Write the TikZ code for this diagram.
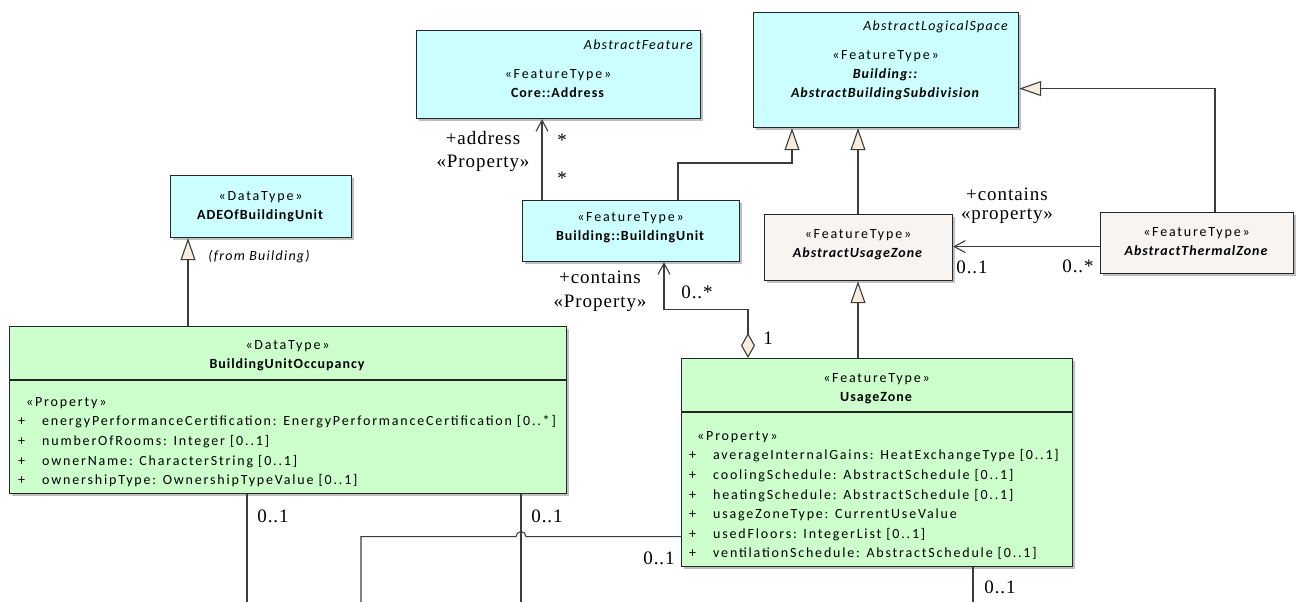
\documentclass[tikz,border=0pt]{standalone}
\usepackage{fontspec}
\setmainfont{Liberation Serif}[LetterSpace=5]
\newfontfamily\eafont{Carlito}[UprightFeatures={LetterSpace=13}, BoldFeatures={LetterSpace=7},
  ItalicFeatures={LetterSpace=9}, BoldItalicFeatures={LetterSpace=7}]
\usepackage{tikz}
\usetikzlibrary{arrows.meta,shadows}
\usepackage{xcolor}
\definecolor{featcyan}{HTML}{CCFFFF}
\definecolor{datagreen}{HTML}{CCFFCC}
\definecolor{abstractgray}{HTML}{F8F4F2}
\definecolor{tipbeige}{HTML}{F8ECDF}
\definecolor{linegray}{HTML}{3C3C3C}

\begin{document}
\begin{tikzpicture}[x=1pt, y=-1pt,
  umlbox/.style={draw=black!85, line width=1.2pt, inner sep=0pt, anchor=north west,
    drop shadow={shadow xshift=2pt, shadow yshift=-2pt, fill=black, opacity=0.25}},
  featbox/.style={umlbox, fill=featcyan},
  databox/.style={umlbox, fill=datagreen},
  absbox/.style={umlbox, fill=abstractgray},
  boxtext/.style={font=\eafont\fontsize{14}{19}\selectfont, align=center, inner sep=0pt},
  attrtext/.style={font=\eafont\fontsize{14}{19.6}\selectfont, inner sep=0pt, anchor=north west},
  superlbl/.style={font=\eafont\itshape\fontsize{14}{16}\selectfont, inner sep=0pt, anchor=east},
  conn/.style={draw=linegray, line width=1.1pt},
  gen/.style={conn, -{Triangle[length=22pt, width=15pt, fill=tipbeige]}},
  assoc/.style={conn, -{Straight Barb[length=11pt, width=12pt]}},
  aggr/.style={conn, {Straight Barb[length=11pt, width=12pt]}-{Diamond[length=25pt, width=14pt, fill=tipbeige]}},
  mult/.style={font=\fontsize{19}{22}\selectfont, inner sep=0pt},
]

  % bounding box
  \useasboundingbox (0,0) rectangle (1296,602);

  % Core::Address
  \node [featbox, minimum width=284pt, minimum height=88pt] (address) at (416,30) {};
  \node [superlbl] (addressSuper) at (693,45) {AbstractFeature};
  \node [boxtext] (addressName) at (558,84) {«FeatureType»\\\textbf{Core::Address}};

  % AbstractBuildingSubdivision
  \node [featbox, minimum width=265pt, minimum height=115pt] (subdivision) at (753,12) {};
  \node [superlbl] (subdivisionSuper) at (1008,27) {AbstractLogicalSpace};
  \node [boxtext] (subdivisionName) at (885.5,75) {«FeatureType»\\\textbf{\textit{Building::}}\\\textbf{\textit{AbstractBuildingSubdivision}}};

  % ADEOfBuildingUnit
  \node [featbox, minimum width=181pt, minimum height=62pt] (adeUnit) at (170,175) {};
  \node [boxtext] (adeUnitName) at (260.5,207) {«DataType»\\\textbf{ADEOfBuildingUnit}};

  % Building::BuildingUnit
  \node [featbox, minimum width=217pt, minimum height=61pt] (unit) at (522,200) {};
  \node [boxtext] (unitName) at (630.5,228) {«FeatureType»\\\textbf{Building::BuildingUnit}};

  % AbstractUsageZone
  \node [absbox, minimum width=188pt, minimum height=66pt] (usageAbs) at (764,214) {};
  \node [boxtext] (usageAbsName) at (858,245) {«FeatureType»\\\textbf{\textit{AbstractUsageZone}}};

  % AbstractThermalZone
  \node [absbox, minimum width=193pt, minimum height=61pt] (thermalAbs) at (1100,212) {};
  \node [boxtext] (thermalAbsName) at (1196.5,241.5) {«FeatureType»\\\textbf{\textit{AbstractThermalZone}}};

  % BuildingUnitOccupancy
  \node [databox, minimum width=557pt, minimum height=167pt] (occupancy) at (9,326) {};
  \draw [draw=black!85, line width=1.2pt] ([yshift=-54pt]occupancy.north west) -- ([yshift=-54pt]occupancy.north east);
  \node [boxtext] (occupancyName) at (287.5,356) {«DataType»\\\textbf{BuildingUnitOccupancy}};
  \node [attrtext] (occupancyAttr) at (18,392.3) {\begin{tabular}{@{}p{24pt}@{}l@{}}
    \multicolumn{2}{@{\hspace{8pt}}l@{}}{«Property»}\\
    + & energyPerformanceCertification: EnergyPerformanceCertification [0..*]\\
    + & numberOfRooms: Integer [0..1]\\
    + & ownerName: CharacterString [0..1]\\
    + & ownershipType: OwnershipTypeValue [0..1]
  \end{tabular}};

  % UsageZone
  \node [databox, minimum width=391pt, minimum height=208pt] (usage) at (681,358) {};
  \draw [draw=black!85, line width=1.2pt] ([yshift=-54pt]usage.north west) -- ([yshift=-54pt]usage.north east);
  \node [boxtext] (usageName) at (876.5,388.5) {«FeatureType»\\\textbf{UsageZone}};
  \node [attrtext] (usageAttr) at (689,426.3) {\begin{tabular}{@{}p{24pt}@{}l@{}}
    \multicolumn{2}{@{\hspace{8pt}}l@{}}{«Property»}\\
    + & averageInternalGains: HeatExchangeType [0..1]\\
    + & coolingSchedule: AbstractSchedule [0..1]\\
    + & heatingSchedule: AbstractSchedule [0..1]\\
    + & usageZoneType: CurrentUseValue\\
    + & usedFloors: IntegerList [0..1]\\
    + & ventilationSchedule: AbstractSchedule [0..1]
  \end{tabular}};

  % generalizations
  \coordinate (occGen) at ([xshift=179pt]occupancy.north west);
  \draw [gen] (occGen) -- (occGen |- adeUnit.south);
  \node [font=\eafont\itshape\fontsize{14}{16}\selectfont, inner sep=0pt] (adeFrom) at (259,257) {(from Building)};

  \coordinate (unitGen) at ([xshift=156pt]unit.north west);
  \coordinate (subGenA) at ([xshift=39pt]subdivision.south west);
  \draw [gen] (unitGen) -- ++(0,-37) -| (subGenA);

  \coordinate (usageAbsGen) at ([xshift=94pt]usageAbs.north west);
  \draw [gen] (usageAbsGen) -- (usageAbsGen |- subdivision.south);

  \coordinate (thermalGen) at ([xshift=115pt]thermalAbs.north west);
  \coordinate (subGenC) at ([yshift=-18.5pt]subdivision.east);
  \draw [gen] (thermalGen) |- (subGenC);

  \coordinate (usageGen) at ([xshift=177pt]usage.north west);
  \draw [gen] (usageGen) -- (usageGen |- usageAbs.south);

  % address association
  \coordinate (unitAddr) at ([xshift=20pt]unit.north west);
  \draw [assoc] (unitAddr) -- (unitAddr |- address.south);
  \node [mult] (addrRole) at (483,138) {+address};
  \node [mult] (addrStereo) at (483,163) {«Property»};
  \node [mult] (addrMultA) at (562,140) {*};
  \node [mult] (addrMultB) at (562,178) {*};

  % aggregation unit - usage zone
  \coordinate (unitAggr) at ([xshift=142pt]unit.south west);
  \coordinate (usageAggr) at ([xshift=67pt]usage.north west);
  \draw [aggr] (unitAggr) -- ++(0,47) -| (usageAggr);
  \node [mult] (unitRole) at (600,277) {+contains};
  \node [mult] (unitStereo) at (600,303) {«Property»};
  \node [mult] (unitMult) at (697,292) {0..*};
  \node [mult] (usageAggrMult) at (768,338) {1};

  % thermal zone contains usage zone
  \coordinate (thermalAssoc) at ([yshift=-3.5pt]thermalAbs.west);
  \draw [assoc] (thermalAssoc) -- (thermalAssoc -| usageAbs.east);
  \node [mult] (thermalRole) at (1007,194) {+contains};
  \node [mult] (thermalStereo) at (1007,216) {«property»};
  \node [mult] (usageAbsMult) at (972,267) {0..1};
  \node [mult] (thermalMult) at (1078,266) {0..*};

  % lines leaving the picture
  \coordinate (occLeft) at ([xshift=238pt]occupancy.south west);
  \coordinate (occLeftEnd) at (247,602);
  \draw [conn] (occLeft) -- (occLeftEnd);
  \node [mult] (occLeftMult) at (273,516) {0..1};

  \coordinate (occRight) at ([xshift=512pt]occupancy.south west);
  \coordinate (occRightEnd) at (521,602);
  \draw [conn] (occRight) -- (occRightEnd);
  \node [mult] (occRightMult) at (547,516) {0..1};

  \coordinate (usageLeft) at ([yshift=-74pt]usage.west);
  \coordinate (hop) at (usageLeft -| occRight);
  \coordinate (hopEnd) at (361,602);
  \draw [conn] (usageLeft) -- ([xshift=5pt]hop) arc[start angle=0, end angle=180, radius=5pt] -- (usageLeft -| hopEnd) -- (hopEnd);
  \node [mult] (usageLeftMult) at (659,558) {0..1};

  \coordinate (usageBottom) at ([xshift=292pt]usage.south west);
  \coordinate (usageBottomEnd) at (973,602);
  \draw [conn] (usageBottom) -- (usageBottomEnd);
  \node [mult] (usageBottomMult) at (1000,587) {0..1};

\end{tikzpicture}
\end{document}
